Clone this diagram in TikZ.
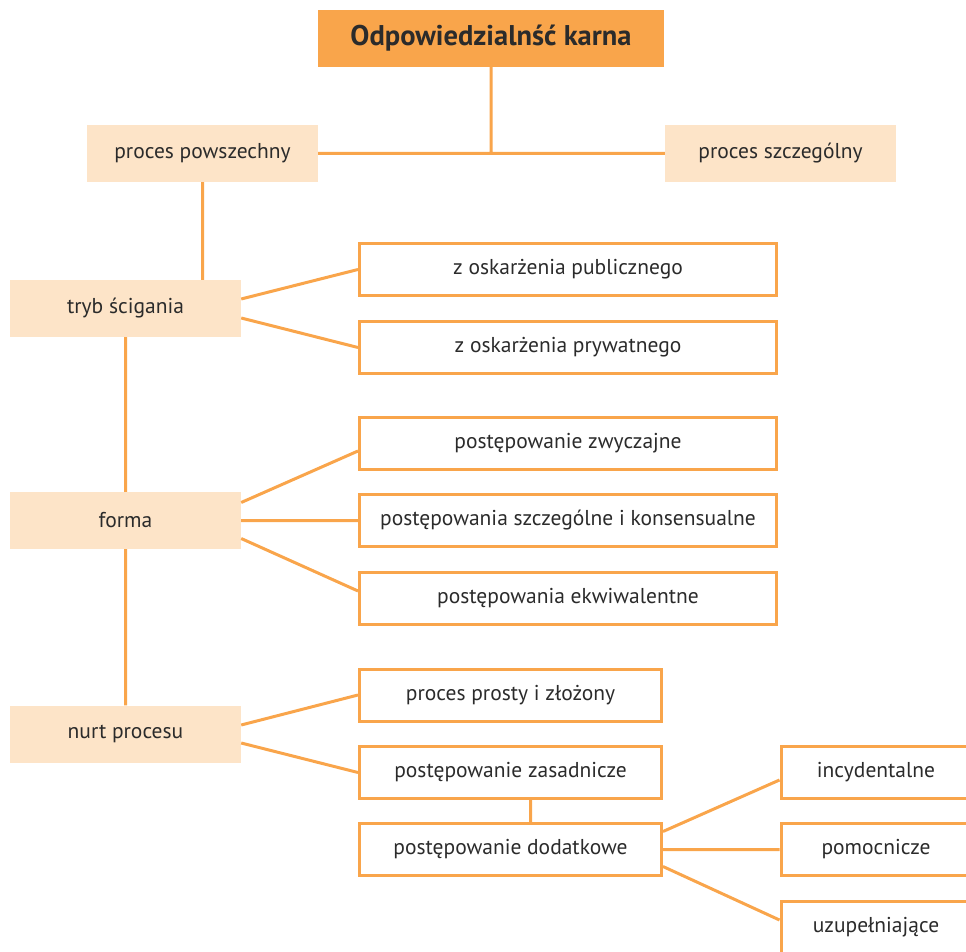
\documentclass[tikz,border=0pt]{standalone}
\usepackage{fontspec}
\setmainfont{PT Sans}
\usetikzlibrary{calc,positioning}
\definecolor{ciemny}{HTML}{F9A54B}
\definecolor{jasny}{HTML}{FDE4C8}
\definecolor{tekst}{HTML}{2B2B2B}
\tikzset{
      glowny/.style = {fill=ciemny, text=tekst, minimum width=346pt, minimum height=57pt,
                       font=\fontsize{28.5}{32}\selectfont\bfseries},
      kategoria/.style = {fill=jasny, text=tekst, minimum width=231pt, minimum height=57pt,
                       font=\fontsize{21.5}{25}\selectfont},
      lisc/.style = {draw=ciemny, line width=3pt, text=tekst, minimum width=417pt,
                       minimum height=52pt, font=\fontsize{21.5}{25}\selectfont},
      krotki/.style = {lisc, minimum width=302pt},
      boczny/.style = {lisc, minimum width=190pt},
      linia/.style = {draw=ciemny, line width=3pt},
    }

\begin{document}
\begin{tikzpicture}[x=1pt,y=-1pt]
            \useasboundingbox (0,0) rectangle (966,952);
            \node [glowny] (odp) at (491,38.5)      {Odpowiedzialnść karna};
            \node [kategoria] (pow) at (202.5,153.5)  {proces powszechny};
            \node [kategoria] (szcz) at (780.5,153.5) {proces szczególny};
            \node [kategoria] (tryb) at (125.5,308.5) {tryb ścigania};
            \node [kategoria] (forma) at (125.5,520.5) {forma};
            \node [kategoria] (nurt) at (125.5,734)   {nurt procesu};

            \node [lisc] (pub) at (568,269.5)    {z oskarżenia publicznego};
            \node [lisc] (pryw) at (568,347.5)   {z oskarżenia prywatnego};
            \node [lisc] (zwycz) at (568,443.5)  {postępowanie zwyczajne};
            \node [lisc] (konsens) at (568,520.5) {postępowania szczególne i konsensualne};
            \node [lisc] (ekwiw) at (568,598.5)  {postępowania ekwiwalentne};

            \node [krotki] (prosty) at (510.5,695)  {proces prosty i złożony};
            \node [krotki] (zasad) at (510.5,772.5) {postępowanie zasadnicze};
            \node [krotki] (dodat) at (510.5,849.5) {postępowanie dodatkowe};

            \node [boczny] (incyd) at (876,772.5)  {incydentalne};
            \node [boczny] (pomoc) at (876,849.5)  {pomocnicze};
            \node [boczny] (uzup) at (876,927)     {uzupełniające};

            \path[linia]
            (odp.south) -- (odp.south |- pow.east)
            (pow.east) -- (szcz.west)
            (pow.south) -- (pow.south |- tryb.north)
            (tryb.south) -- (forma.north)
            (forma.south) -- (nurt.north)
            ([yshift=9.5pt]tryb.east) -- (pub.west)
            ([yshift=-9.5pt]tryb.east) -- (pryw.west)
            ([yshift=18pt]forma.east) -- ([yshift=-7.5pt]zwycz.west)
            (forma.east) -- (konsens.west)
            ([yshift=-18pt]forma.east) -- ([yshift=7.5pt]ekwiw.west)
            ([yshift=9pt]nurt.east) -- (prosty.west)
            ([yshift=-9pt]nurt.east) -- (zasad.west)
            ([xshift=20pt]zasad.south) -- ([xshift=20pt]dodat.north)
            ([yshift=18pt]dodat.east) -- ([yshift=-7.5pt]incyd.west)
            (dodat.east) -- (pomoc.west)
            ([yshift=-17pt]dodat.east) -- ([yshift=7pt]uzup.west);
      \end{tikzpicture}
\end{document}
